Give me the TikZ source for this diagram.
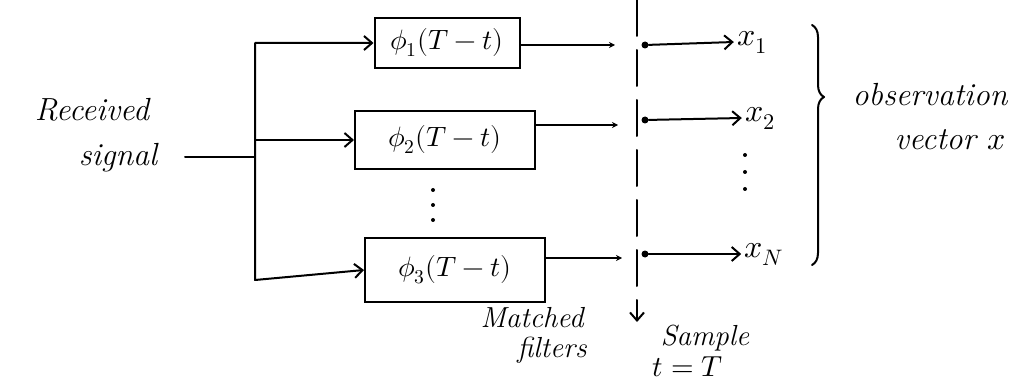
\documentclass[tikz,border=0pt]{standalone}
\usepackage{unicode-math}
\setmathfont{Latin Modern Math}
\usetikzlibrary{arrows.meta,decorations.pathreplacing}
\begin{document}
\begin{tikzpicture}[x=1pt,y=-1pt,
  wire/.style={line width=2pt, line cap=round, line join=round},
  feed/.style={wire, -{Straight Barb[length=8pt,width=14pt]}},
  stub/.style={wire, -{Stealth[length=6pt,width=6pt]}},
  blk/.style={draw, line width=2pt, inner sep=0pt, font=\fontsize{28}{32}\selectfont},
  lbl/.style={inner sep=0pt, font=\fontsize{32}{36}\selectfont\itshape},
  small/.style={inner sep=0pt, font=\fontsize{29}{32}\selectfont\itshape},
  tap/.style={circle, fill, inner sep=0pt, minimum size=7pt},
  pip/.style={circle, fill, inner sep=0pt, minimum size=4pt},
]
\useasboundingbox (0,0) rectangle (1025,382);

% input label
\node[lbl] (recv) at (92,110) {Received};
\node[lbl] (sig) at (118,158) {signal};

% bank of matched filters
\node[blk, minimum width=145pt, minimum height=50pt] (f1) at (447,43) {$\phi_1(T-t)$};
\node[blk, minimum width=180pt, minimum height=58pt] (f2) at (445,140) {$\phi_2(T-t)$};
\node[blk, minimum width=180pt, minimum height=64pt] (f3) at (455,270) {$\phi_3(T-t)$};
\node[pip] (d1a) at (433,190) {};
\node[pip] (d1b) at (433,205) {};
\node[pip] (d1c) at (433,220) {};

% distribution bus
\coordinate (src) at (185,157);
\coordinate (bt) at (255,43);
\coordinate (bj) at (255,157);
\coordinate (bb) at (255,280);
\draw[wire] (src) -- (bj);
\draw[wire, {Straight Barb[length=8pt,width=14pt]}-{Straight Barb[length=8pt,width=14pt]}]
  (f1.west) -- (bt) -- (bb) -- (f3.west);
\draw[feed] (bt |- f2.west) -- (f2.west);

% sampling switch
\coordinate (swt) at (637,0);
\coordinate (swb) at (637,322);
\draw[wire, dash pattern=on 36pt off 14pt] (swt) -- ([yshift=14pt]swb);
\draw[feed] ([yshift=14pt]swb) -- (swb);

\coordinate (s1) at (615,45);
\coordinate (s2) at (618,125);
\coordinate (s3) at (622,258);
\draw[stub] (f1.east |- s1) -- (s1);
\draw[stub] (f2.east |- s2) -- (s2);
\draw[stub] (f3.east |- s3) -- (s3);

\node[tap] (t1) at (645,45) {};
\node[tap] (t2) at (645,120) {};
\node[tap] (t3) at (645,254) {};

\node[lbl] (x1) at (752,42) {$x_1$};
\node[lbl] (x2) at (760,118) {$x_2$};
\node[lbl] (xN) at (764,254) {$x_N$};
\node[pip] (d2a) at (745,155) {};
\node[pip] (d2b) at (745,172) {};
\node[pip] (d2c) at (745,189) {};

\draw[feed] (t1) -- ([xshift=-3pt]x1.west);
\draw[feed] (t2) -- ([xshift=-3pt]x2.west);
\draw[feed] (t3) -- ([xshift=-3pt]xN.west);

% observation vector
\coordinate (brt) at (812,25);
\coordinate (brb) at (812,265);
\draw[wire, decorate, decoration={brace, amplitude=12pt, aspect=0.3}] (brt) -- (brb);
\node[lbl] (obs) at (930,95) {observation};
\node[lbl] (vec) at (950,140) {vector $x$};

% captions
\node[small] (mf1) at (532,318) {Matched};
\node[small] (mf2) at (552,350) {filters};
\node[small] (smp) at (705,338) {Sample};
\node[small] (tT) at (688,367) {$t=T$};
\end{tikzpicture}
\end{document}
